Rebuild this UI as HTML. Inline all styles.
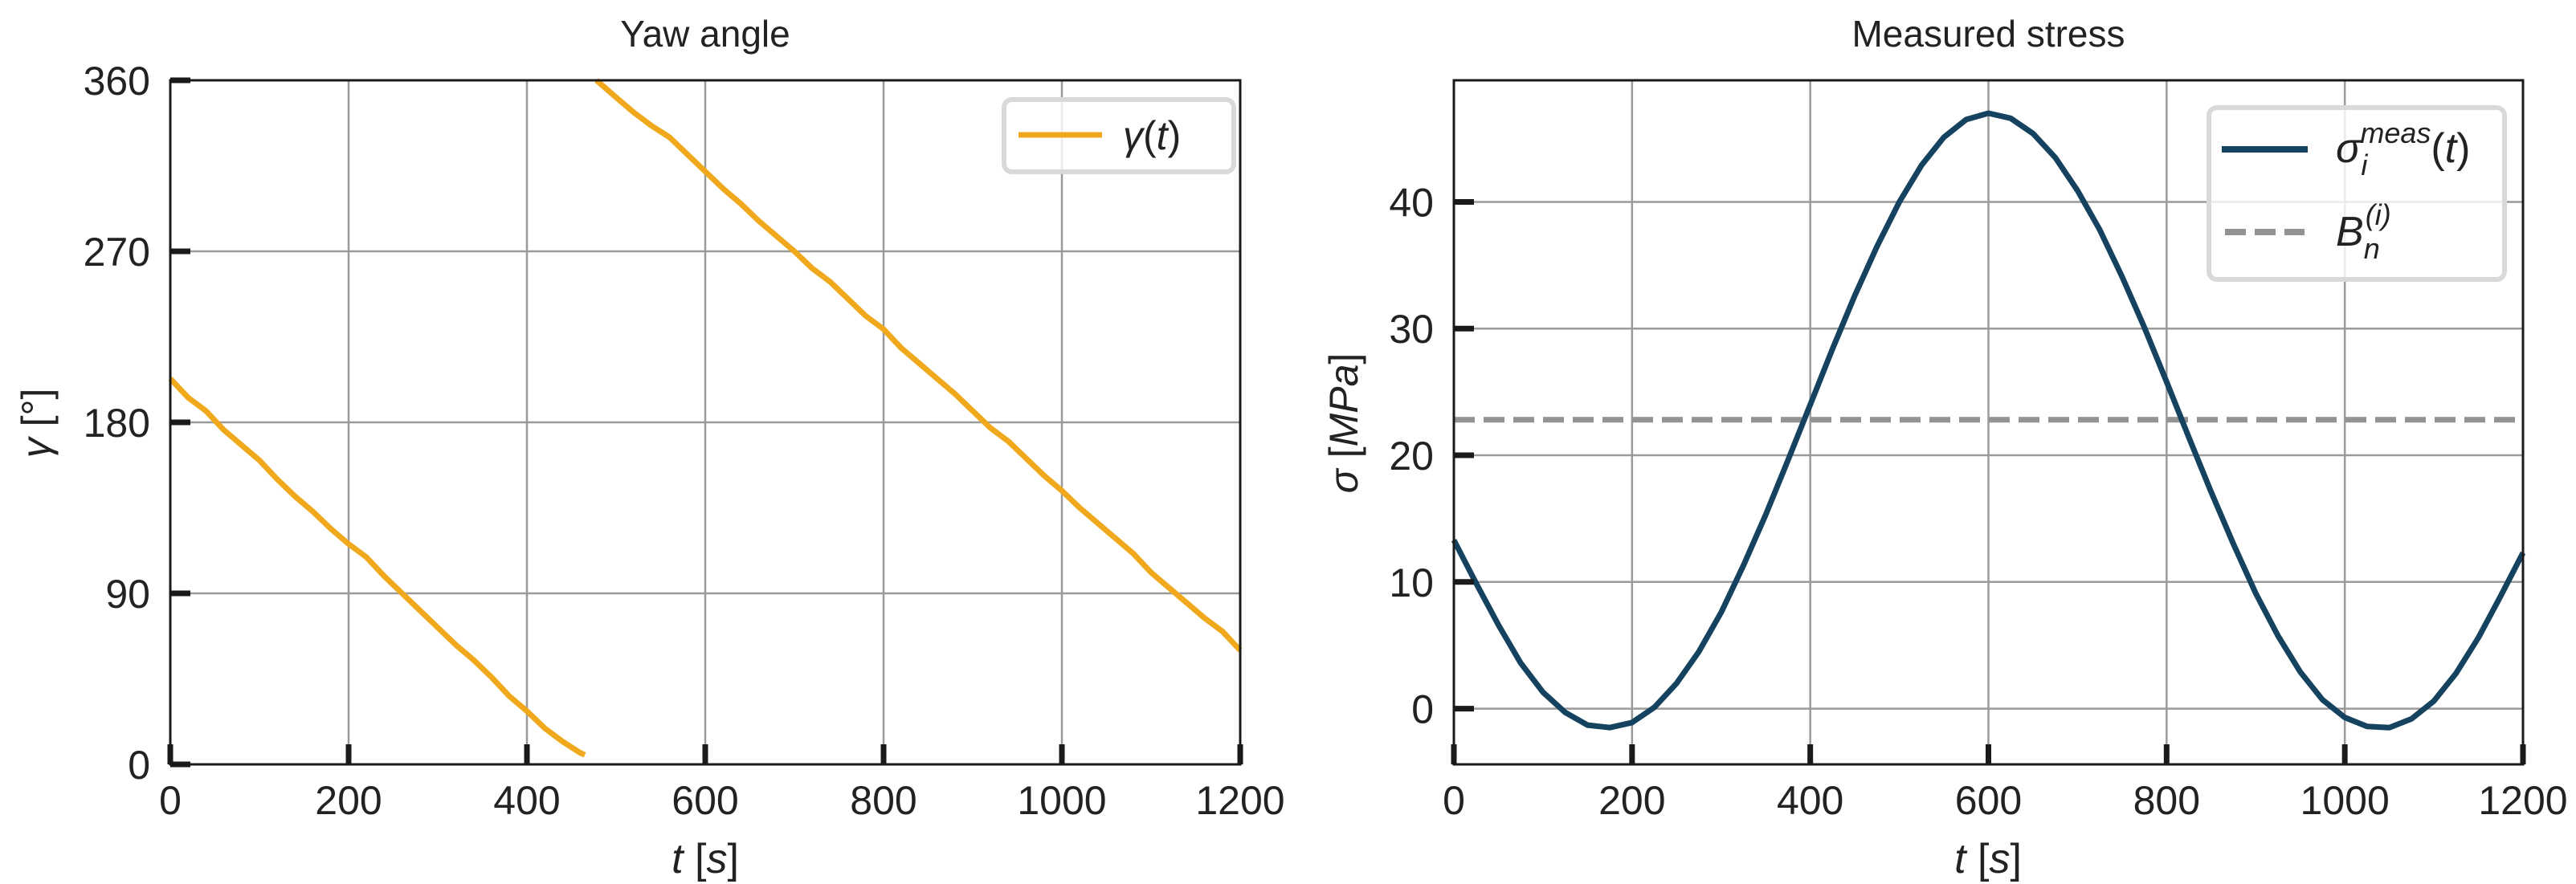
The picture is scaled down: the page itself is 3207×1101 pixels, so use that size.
<!DOCTYPE html>
<html><head><meta charset="utf-8"><style>
html,body{margin:0;padding:0;background:#fff;}
svg{display:block;font-family:"Liberation Sans","DejaVu Sans",sans-serif;}
</style></head><body>
<svg id="fig" width="3207" height="1101" viewBox="0 0 3207 1101" xmlns="http://www.w3.org/2000/svg"></svg>
<script>
// ---- Yaw angle data ----
const yawT1 = [0,20,40,60,80,100,120,140,160,180,200,220,240,260,280,300,320,340,360,380,400,420,440,460,465];
const yawV1 = [203,193,186,176,168,160,150,141,133,124,116,109,99,90,81,72,63,55,46,36,28,19,12,6,5];
const yawT2 = [478,500,520,540,560,580,600,620,640,660,680,700,720,740,760,780,800,820,840,860,880,900,920,940,960,980,1000,1020,1040,1060,1080,1100,1120,1140,1160,1180,1200];
const yawV2 = [360,351,343,336,330,321,312,303,295,286,278,270,261,254,245,236,229,219,211,203,195,186,177,170,161,152,144,135,127,119,111,101,93,85,77,70,60];
const yawXTicks = [0,200,400,600,800,1000,1200];
const yawYTicks = [0,90,180,270,360];
// ---- Stress data ----
const stressT = [0,25,50,75,100,125,150,175,200,225,250,275,300,325,350,375,400,425,450,475,500,525,550,575,600,625,650,675,700,725,750,775,800,825,850,875,900,925,950,975,1000,1025,1050,1075,1100,1125,1150,1175,1200];
const stressV = [13.3,9.9,6.6,3.6,1.3,-0.3,-1.3,-1.5,-1.1,0.1,2.0,4.5,7.6,11.3,15.3,19.6,24.0,28.4,32.6,36.5,40.0,42.9,45.1,46.5,47.0,46.6,45.4,43.5,40.9,37.8,34.1,30.1,25.8,21.4,17.1,13.0,9.1,5.75,2.9,0.7,-0.7,-1.4,-1.5,-0.8,0.6,2.8,5.6,8.9,12.3];
const baseline = [22.8];
const stressXTicks = [0,200,400,600,800,1000,1200];
const stressYTicks = [0,10,20,30,40];

const svg = document.getElementById('fig');
const NS = 'http://www.w3.org/2000/svg';
function mk(tag, attrs, parent){
  const e = document.createElementNS(NS, tag);
  for (const k in attrs) e.setAttribute(k, attrs[k]);
  (parent||svg).appendChild(e);
  return e;
}

function axes(cfg){
  const g = mk('g', {});
  
  
  const sx = v => cfg.x0 + (v - cfg.xmin) / (cfg.xmax - cfg.xmin) * (cfg.x1 - cfg.x0);
  const sy = v => cfg.y0 - (v - cfg.ymin) / (cfg.ymax - cfg.ymin) * (cfg.y0 - cfg.y1);
  cfg.xticks.forEach(v => {
    const l = mk('line', {x1:sx(v), x2:sx(v), y1:cfg.y1, y2:cfg.y0, stroke:'#9a9a9a', 'stroke-width':2.5}, g);
    
    
  });
  cfg.yticks.forEach(v => {
    const l = mk('line', {x1:cfg.x0, x2:cfg.x1, y1:sy(v), y2:sy(v), stroke:'#9a9a9a', 'stroke-width':2.5}, g);
    
    
  });
  return {g, sx, sy};
}

function frame(cfg, A){
  const g = A.g;
  const r = mk('rect', {x:cfg.x0, y:cfg.y1, width:cfg.x1-cfg.x0, height:cfg.y0-cfg.y1, fill:'none', stroke:'#1a1a1a', 'stroke-width':3}, g);
  
  
  cfg.xticks.forEach(v => {
    const t = mk('line', {x1:A.sx(v), x2:A.sx(v), y1:cfg.y0, y2:cfg.y0-25, stroke:'#1a1a1a', 'stroke-width':7}, g);
    
    
    const tx = mk('text', {x:A.sx(v), y:cfg.y0+62, 'text-anchor':'middle', 'font-size':50, fill:'#222'}, g);
    tx.textContent = v;
    
    
  });
  cfg.yticks.forEach(v => {
    const t = mk('line', {x1:cfg.x0, x2:cfg.x0+25, y1:A.sy(v), y2:A.sy(v), stroke:'#1a1a1a', 'stroke-width':7}, g);
    
    
    const tx = mk('text', {x:cfg.x0-25, y:A.sy(v)+18, 'text-anchor':'end', 'font-size':50, fill:'#222'}, g);
    tx.textContent = v;
    
    
  });
  const ti = mk('text', {x:(cfg.x0+cfg.x1)/2, y:58, 'text-anchor':'middle', 'font-size':46, fill:'#222'}, g);
  ti.textContent = cfg.title;
  
  
}

function path(A, xs, ys, attrs, name){
  let d = '';
  xs.forEach((x,i) => { d += (i?'L':'M') + A.sx(x).toFixed(1) + ',' + A.sy(ys[i]).toFixed(1); });
  const p = mk('path', Object.assign({d, fill:'none', 'stroke-linejoin':'round'}, attrs), A.g);
  
  
  return p;
}

const L = {name:'yaw-angle-chart', x0:212, x1:1544, y0:952, y1:100, xmin:0, xmax:1200, ymin:0, ymax:360, xticks:yawXTicks, yticks:yawYTicks, title:'Yaw angle'};
const LA = axes(L);
path(LA, yawT1, yawV1, {stroke:'#f0a81c', 'stroke-width':7}, 'yaw-line-segment-1');
path(LA, yawT2, yawV2, {stroke:'#f0a81c', 'stroke-width':7}, 'yaw-line-segment-2');
frame(L, LA);

const R = {name:'stress-chart', x0:1810, x1:3141, y0:952, y1:100, xmin:0, xmax:1200, ymin:-4.4, ymax:49.6, xticks:stressXTicks, yticks:stressYTicks, title:'Measured stress'};
const RA = axes(R);
path(RA, [0,1200], [baseline[0], baseline[0]], {stroke:'#939393', 'stroke-width':7, 'stroke-dasharray':'26,11'}, 'baseline-line');
path(RA, stressT, stressV, {stroke:'#14425f', 'stroke-width':7}, 'stress-line');
frame(R, RA);
</script>
<svg style="position:absolute;left:0;top:0" width="3207" height="1101" xmlns="http://www.w3.org/2000/svg" font-family="Liberation Sans, DejaVu Sans, sans-serif">
  <text transform="translate(62,527) rotate(-90)" text-anchor="middle" font-size="50" fill="#222"><tspan font-style="italic">γ</tspan> [°]</text>
  <text x="878" y="1087" text-anchor="middle" font-size="52" fill="#222" font-style="italic">t <tspan font-style="normal">[</tspan>s<tspan font-style="normal">]</tspan></text>
  <text transform="translate(1690,527) rotate(-90)" text-anchor="middle" font-size="50" fill="#222"><tspan font-style="italic">σ</tspan> [<tspan font-style="italic">MPa</tspan>]</text>
  <text x="2475" y="1087" text-anchor="middle" font-size="52" fill="#222" font-style="italic">t <tspan font-style="normal">[</tspan>s<tspan font-style="normal">]</tspan></text>
  <g>
    <rect x="1250" y="124" width="286" height="90" rx="10" fill="rgba(255,255,255,0.8)" stroke="#d9d9d9" stroke-width="6"/>
    <line x1="1268" y1="168" x2="1372" y2="168" stroke="#f0a81c" stroke-width="7"/>
    <text x="1398" y="186" font-size="50" fill="#222" font-style="italic">γ<tspan font-style="normal">(</tspan>t<tspan font-style="normal">)</tspan></text>
  </g>
  <g>
    <rect x="2750" y="134" width="368" height="214" rx="10" fill="rgba(255,255,255,0.8)" stroke="#d9d9d9" stroke-width="6"/>
    <line x1="2766" y1="186" x2="2873" y2="186" stroke="#14425f" stroke-width="8"/>
    <text x="2908" y="202" font-size="52" fill="#222" font-style="italic">σ<tspan font-size="36" dy="16">i</tspan><tspan font-size="36" dx="-9" dy="-40">meas</tspan><tspan font-style="normal" dy="24">(</tspan>t<tspan font-style="normal">)</tspan></text>
    <line x1="2770" y1="289" x2="2869" y2="289" stroke="#939393" stroke-width="8" stroke-dasharray="26,11"/>
    <text x="2908" y="306" font-size="52" fill="#222" font-style="italic">B<tspan font-size="36" dy="16">n</tspan><tspan font-size="36" dx="-18" dy="-42">(i)</tspan></text>
  </g>
</svg>
</body></html>
